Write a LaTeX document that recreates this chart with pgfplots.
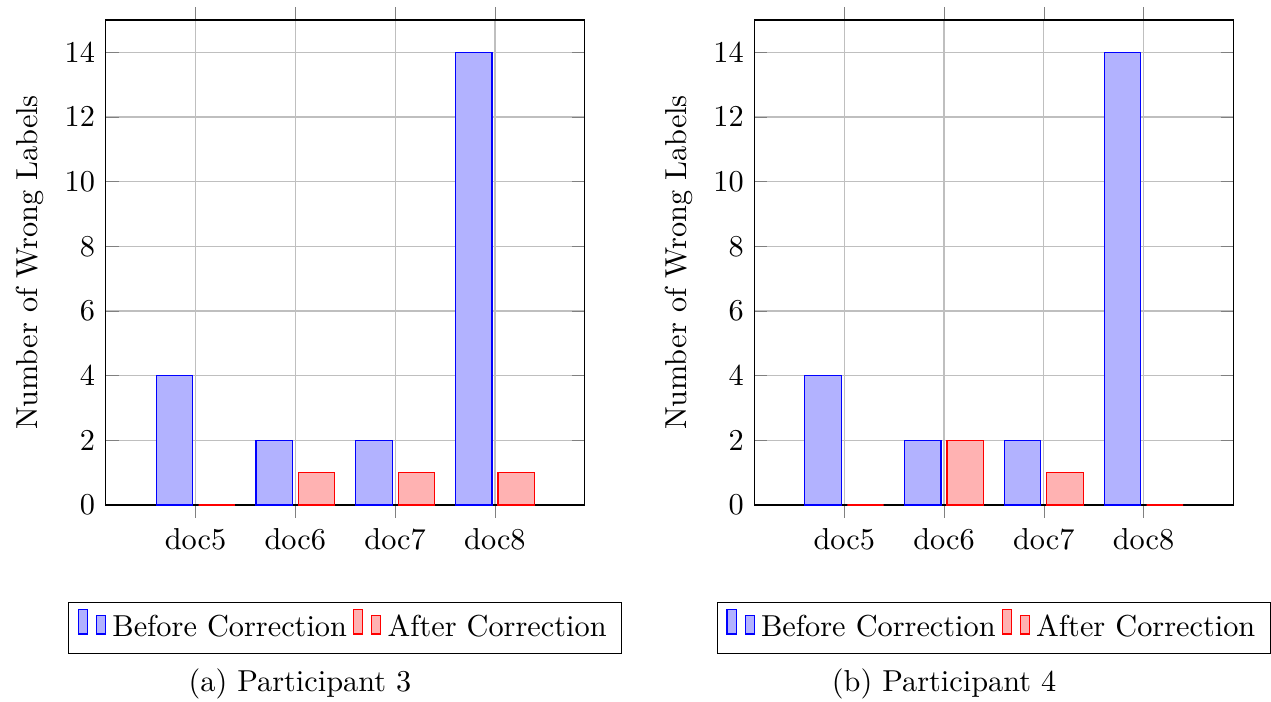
\documentclass[border=0pt]{standalone}
\usepackage{pgfplots}
\pgfplotsset{compat=1.18}
\pgfplotsset{set layers=standard}
\begin{document}
\begin{tikzpicture}
\pgfplotsset{
  every axis/.append style={
    scale only axis,
    width=158.1pt, height=160.1pt,
    ybar=2pt, bar width=12pt,
    ymin=0, ymax=15,
    xmin=-0.9, xmax=3.9,
    xtick={0,1,2,3},
    xticklabels={doc5,doc6,doc7,doc8},
    xtick align=outside,
    ytick={0,2,4,6,8,10,12,14},
    grid=major,
    ylabel={Number of Wrong Labels},
    legend style={at={(0.5,-0.2)},anchor=north,legend columns=-1},
  }
}
\begin{axis}[at={(0pt,0pt)},anchor=south west]
\addplot coordinates {(0,4) (1,2) (2,2) (3,14)};
\addplot coordinates {(0,0) (1,1) (2,1) (3,1)};
\legend{Before Correction,After Correction}
\end{axis}
\begin{axis}[at={(214.1pt,0pt)},anchor=south west]
\addplot coordinates {(0,4) (1,2) (2,2) (3,14)};
\addplot coordinates {(0,0) (1,2) (2,1) (3,0)};
\legend{Before Correction,After Correction}
\end{axis}
\node[anchor=base] at (64.1pt,-61.7pt) {(a) Participant 3};
\node[anchor=base] at (276.7pt,-61.7pt) {(b) Participant 4};
\pgfresetboundingbox
\path[use as bounding box] (-34.9pt,-65.0pt) rectangle (384.6pt,166.7pt);
\end{tikzpicture}
\end{document}
